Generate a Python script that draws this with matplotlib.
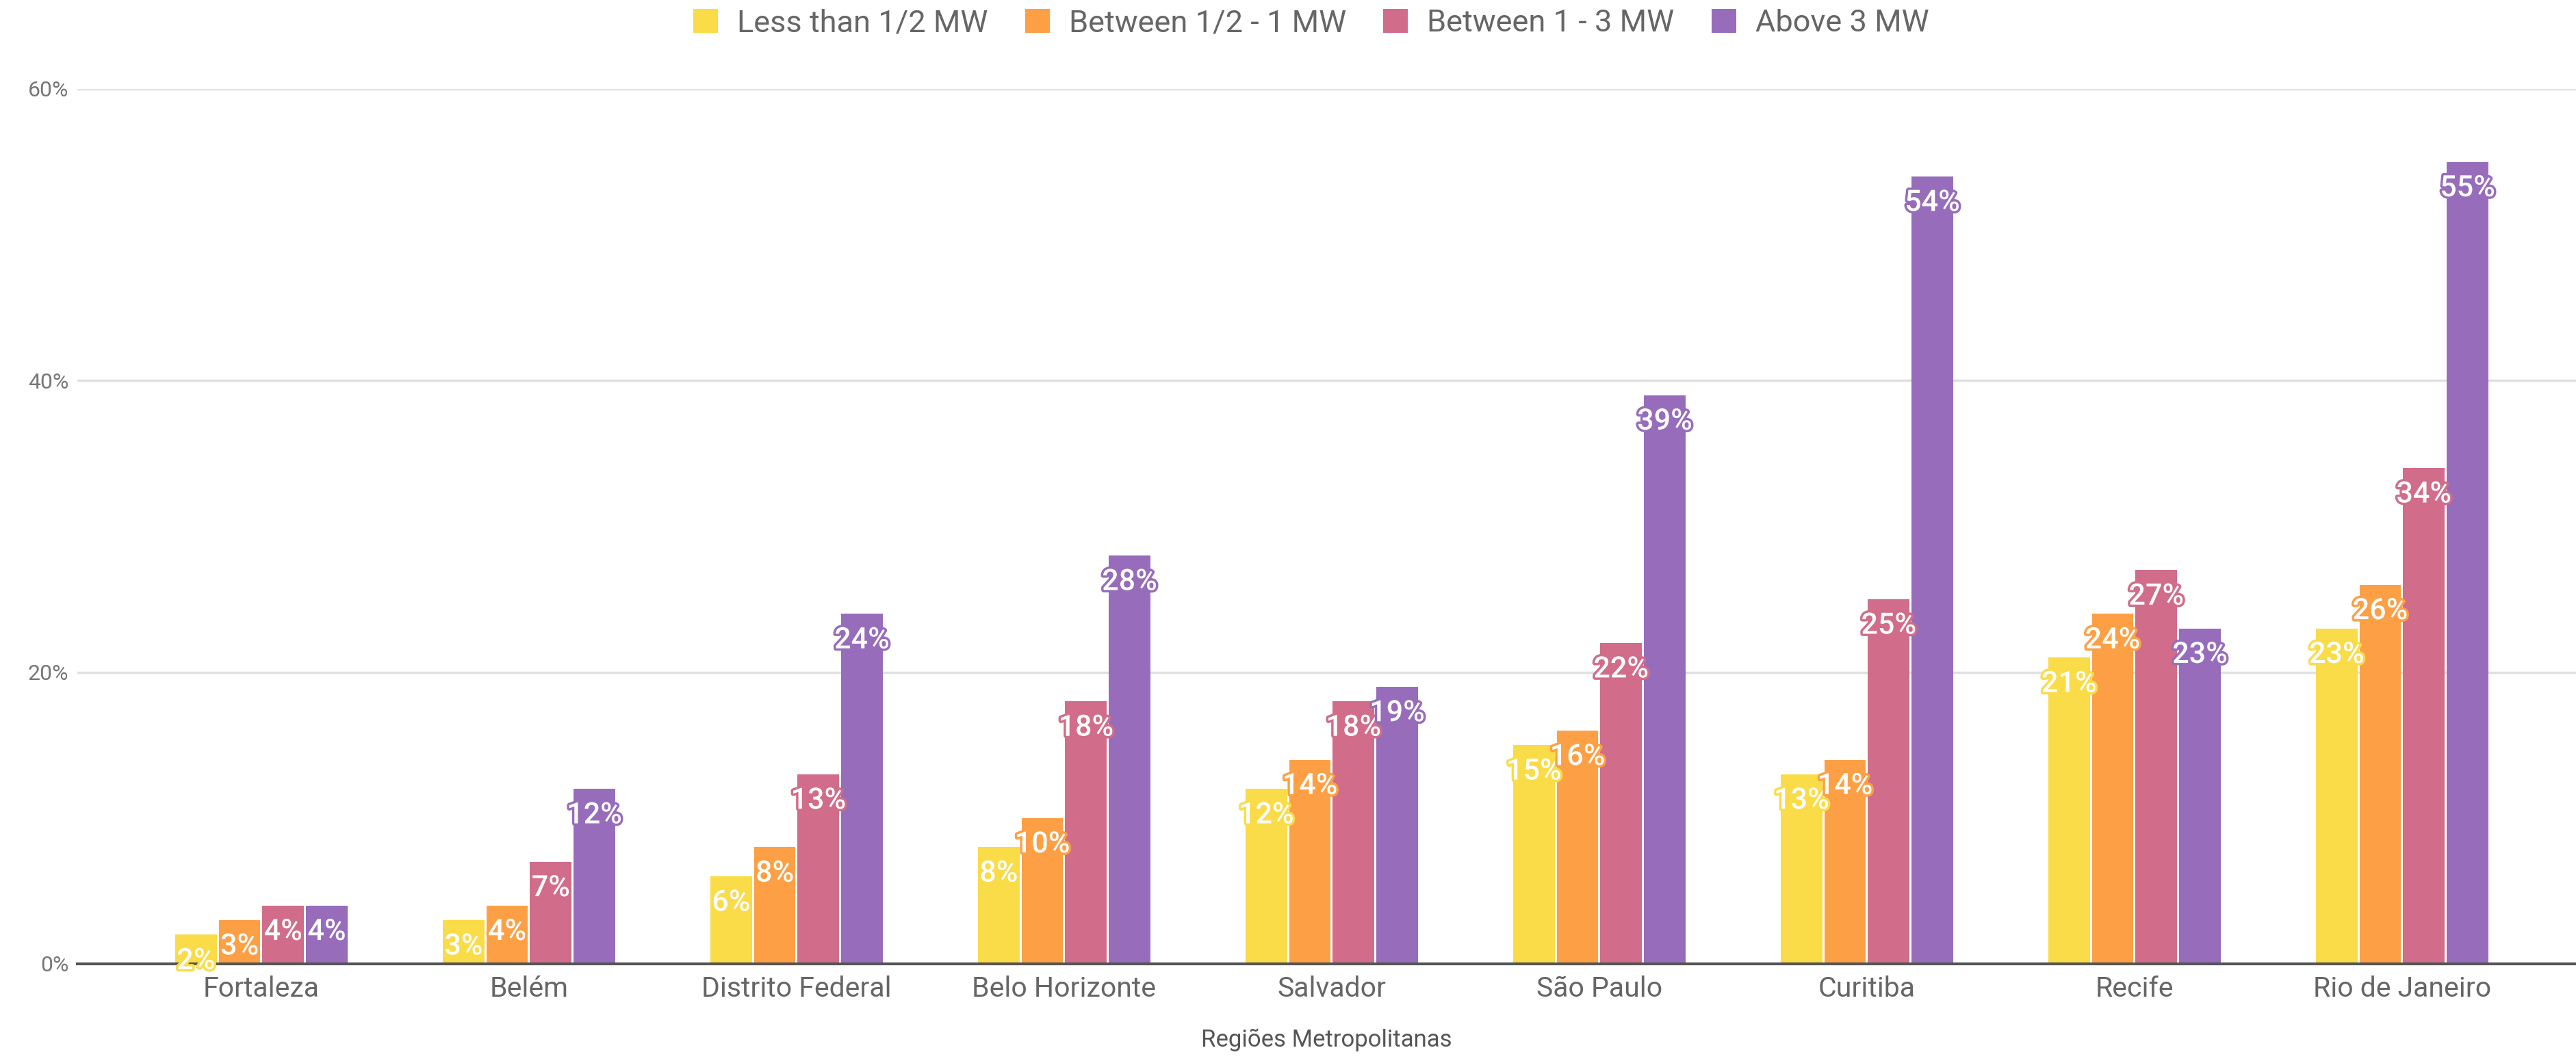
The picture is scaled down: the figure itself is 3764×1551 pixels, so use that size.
import matplotlib
matplotlib.use("Agg")
import matplotlib.pyplot as plt
import matplotlib.patheffects as pe
import numpy as np

plt.rcParams['font.family'] = ['Roboto', 'DejaVu Sans']

regions = ['Fortaleza', 'Belém', 'Distrito Federal', 'Belo Horizonte', 'Salvador',
           'São Paulo', 'Curitiba', 'Recife', 'Rio de Janeiro']
series_names = ['Less than 1/2 MW', 'Between 1/2 - 1 MW', 'Between 1 - 3 MW', 'Above 3 MW']
less_half = [2, 3, 6, 8, 12, 15, 13, 21, 23]
half_to_one = [3, 4, 8, 10, 14, 16, 14, 24, 26]
one_to_three = [4, 7, 13, 18, 18, 22, 25, 27, 34]
above_three = [4, 12, 24, 28, 19, 39, 54, 23, 55]
colors = ['#f9dc47', '#fda045', '#d16c8a', '#976dbb']

series = [less_half, half_to_one, one_to_three, above_three]

fig = plt.figure(figsize=(37.64, 15.51), dpi=100)
ax = fig.add_axes([0.030, 0.0916, 0.970, 0.8246])

ind = np.arange(len(regions))
slot = 0.163
width = 0.155
for i, (vals, col, name) in enumerate(zip(series, colors, series_names)):
    pos = ind + (i - 1.5) * slot
    bars = ax.bar(pos, vals, width, color=col, label=name, zorder=3)
    # value labels just under the top of each bar
    for rect, v in zip(bars, vals):
        ax.annotate('%d%%' % v, (rect.get_x() + rect.get_width() / 2.0, v),
                    xytext=(0, -28), textcoords='offset points',
                    ha='center', va='center', fontsize=31, color='white',
                    fontweight='medium', zorder=5,
                    path_effects=[pe.Stroke(linewidth=5, foreground=col), pe.Normal()])

ax.set_xlim(-0.688, 8.65)
ax.set_ylim(0, 60)
ax.set_yticks([0, 20, 40, 60])
ax.set_yticklabels(['0%', '20%', '40%', '60%'])
ax.set_xticks(ind)
ax.set_xticklabels(regions)
ax.tick_params(axis='x', length=0, pad=12, labelsize=29.5, labelcolor='#666666')
ax.tick_params(axis='y', length=0, pad=9, labelsize=23, labelcolor='#777777')
ax.grid(axis='y', color='#e0e0e0', linewidth=2.5, zorder=0)
for s in ['top', 'right', 'left']:
    ax.spines[s].set_visible(False)
ax.spines['bottom'].set_color('#555555')
ax.spines['bottom'].set_linewidth(3)
ax.spines['bottom'].set_zorder(4)
ax.set_xlabel('Regiões Metropolitanas', fontsize=25, color='#555555', labelpad=28)

fig.legend(loc='center', bbox_to_anchor=(0.509, 0.978), ncol=4, frameon=False,
           fontsize=32.5, labelcolor='#666666', handlelength=0.8, handleheight=0.8,
           columnspacing=1.2, handletextpad=0.62)

fig.savefig('out.png', dpi=100)
